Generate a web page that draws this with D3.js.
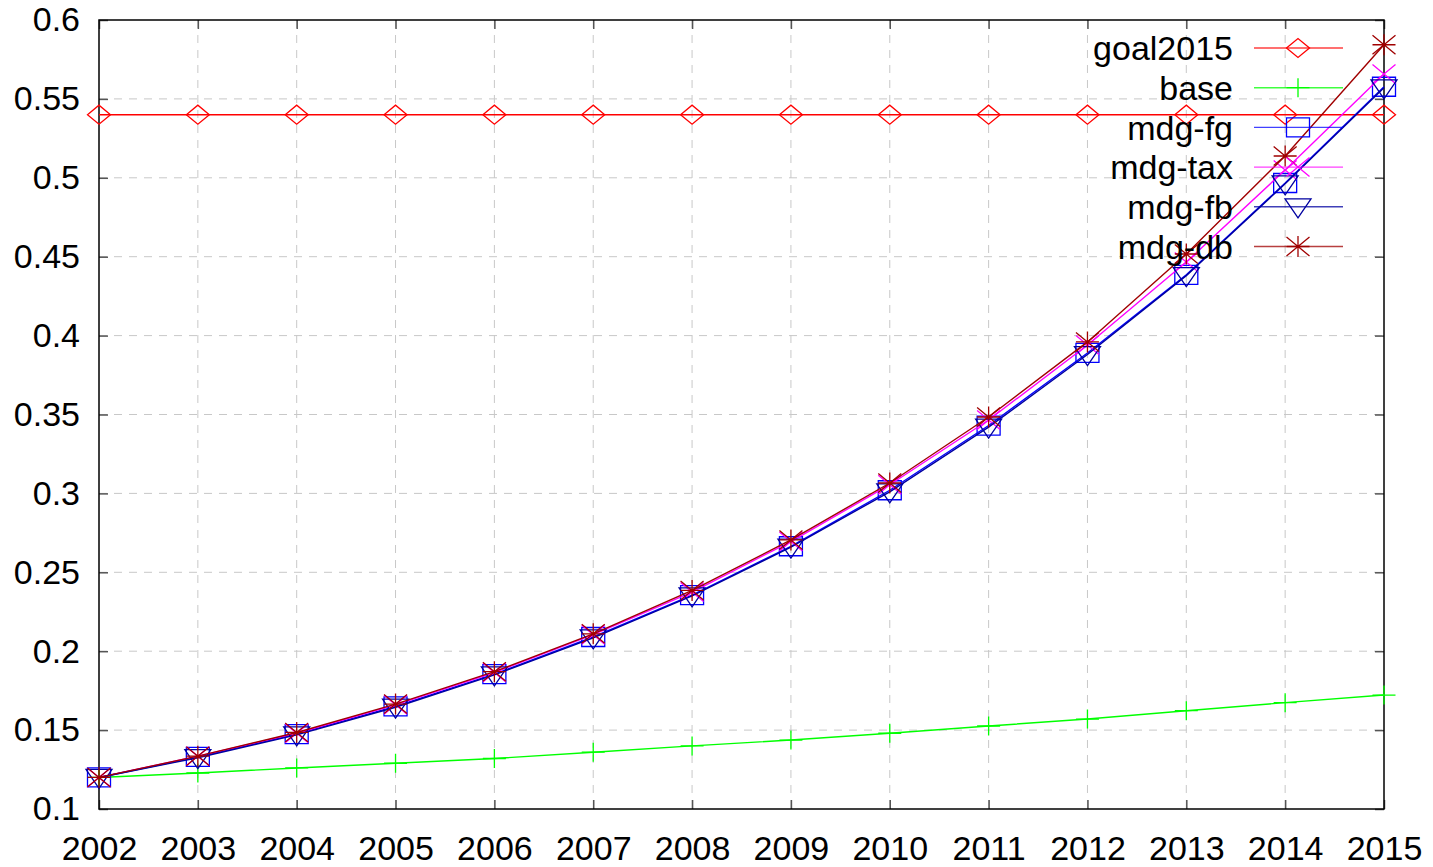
<!DOCTYPE html>
<html>
<head>
<meta charset="utf-8">
<script src="https://cdn.jsdelivr.net/npm/d3@7.9.0/dist/d3.min.js"></script>
<style>
  html, body { margin: 0; padding: 0; background: #fff; }
  svg { display: block; font-family: "Liberation Sans", Arial, sans-serif; }
</style>
</head>
<body>
<svg id="chart" width="1433" height="867"></svg>
<script>
const years = [2002, 2003, 2004, 2005, 2006, 2007, 2008, 2009, 2010, 2011, 2012, 2013, 2014, 2015];
const yTicks = [0.1, 0.15, 0.2, 0.25, 0.3, 0.35, 0.4, 0.45, 0.5, 0.55, 0.6];

const goal2015 = [0.54, 0.54, 0.54, 0.54, 0.54, 0.54, 0.54, 0.54, 0.54, 0.54, 0.54, 0.54, 0.54, 0.54];
const base = [0.120, 0.1228, 0.126, 0.129, 0.132, 0.136, 0.140, 0.1437, 0.148, 0.1526, 0.157, 0.1623, 0.1674, 0.1722];
const mdgFg = [0.120, 0.133, 0.1475, 0.165, 0.1855, 0.209, 0.2355, 0.2665, 0.302, 0.343, 0.389, 0.4385, 0.4967, 0.5577];
const mdgTax = [0.120, 0.1335, 0.148, 0.166, 0.1865, 0.2105, 0.2375, 0.2695, 0.3055, 0.3465, 0.394, 0.4466, 0.505, 0.5658];
const mdgFb = [0.120, 0.1325, 0.147, 0.1645, 0.185, 0.2085, 0.235, 0.266, 0.301, 0.342, 0.388, 0.438, 0.4962, 0.557];
const mdgDb = [0.120, 0.1335, 0.1485, 0.1665, 0.187, 0.211, 0.2385, 0.2705, 0.3066, 0.3484, 0.396, 0.4517, 0.5138, 0.5843];

const series = [
  { name: 'goal2015', values: goal2015, color: '#ff0000', mark: 'diamond' },
  { name: 'base', values: base, color: '#00ff00', mark: 'plus' },
  { name: 'mdg-fg', values: mdgFg, color: '#0000ff', mark: 'square' },
  { name: 'mdg-tax', values: mdgTax, color: '#ff00ff', mark: 'cross' },
  { name: 'mdg-fb', values: mdgFb, color: '#0000a0', mark: 'triangle' },
  { name: 'mdg-db', values: mdgDb, color: '#a00000', mark: 'star' }
];

const plotL = 99, plotR = 1384, plotT = 20, plotB = 809;
const fontSize = 34;
const svg = d3.select('#chart');

const x = d3.scaleLinear().domain([2002, 2015]).range([plotL, plotR]);
const y = d3.scaleLinear().domain([0.1, 0.6]).range([plotB, plotT]);

// grid
const grid = svg.append('g').attr('stroke', '#c8c8c8').attr('stroke-width', 1)
  .attr('stroke-dasharray', '8,7');
grid.selectAll('.gy').data(yTicks.slice(1, -1)).enter().append('line')
  .attr('x1', plotL).attr('x2', plotR)
  .attr('y1', d => y(d)).attr('y2', d => y(d));
grid.selectAll('.gx').data(years.slice(1, -1)).enter().append('line')
  .attr('y1', plotT).attr('y2', plotB)
  .attr('x1', d => x(d)).attr('x2', d => x(d));

// axes (ticks inward on all sides)
const tickLen = 9;
const axisB = svg.append('g').attr('transform', `translate(0,${plotB})`)
  .call(d3.axisBottom(x).tickValues(years).tickFormat(d3.format('d')).tickSize(-tickLen).tickPadding(27));
const axisT = svg.append('g').attr('transform', `translate(0,${plotT})`)
  .call(d3.axisTop(x).tickValues(years).tickFormat('').tickSize(-tickLen));
const axisL = svg.append('g').attr('transform', `translate(${plotL},0)`)
  .call(d3.axisLeft(y).tickValues(yTicks).tickFormat(d => String(+d.toFixed(2))).tickSize(-tickLen).tickPadding(19));
const axisR = svg.append('g').attr('transform', `translate(${plotR},0)`)
  .call(d3.axisRight(y).tickValues(yTicks).tickFormat('').tickSize(-tickLen));

[axisB, axisT, axisL, axisR].forEach(a => {
  a.select('.domain').remove();
  a.selectAll('.tick line').attr('stroke', '#555').attr('stroke-width', 1.5);
  a.selectAll('.tick text').attr('fill', '#000').attr('font-size', fontSize)
    .attr('font-family', '"Liberation Sans", Arial, sans-serif');
});
axisB.selectAll('.tick text').attr('dy', '0.71em');

svg.append('rect').attr('x', plotL).attr('y', plotT)
  .attr('width', plotR - plotL).attr('height', plotB - plotT)
  .attr('fill', 'none').attr('stroke', '#000').attr('stroke-width', 1.5);

// point shapes
function markPath(type, cx, cy) {
  const w = 11.5, h = 9.5;
  switch (type) {
    case 'diamond':
      return `M${cx - w},${cy}L${cx},${cy - h}L${cx + w},${cy}L${cx},${cy + h}Z`;
    case 'plus':
      return `M${cx - w},${cy}L${cx + w},${cy}M${cx},${cy - h}L${cx},${cy + h}`;
    case 'square':
      return `M${cx - w},${cy - h}L${cx + w},${cy - h}L${cx + w},${cy + h}L${cx - w},${cy + h}Z`;
    case 'cross':
      return `M${cx - w},${cy - h}L${cx + w},${cy + h}M${cx - w},${cy + h}L${cx + w},${cy - h}`;
    case 'triangle':
      return `M${cx - 13},${cy - 8}L${cx + 13},${cy - 8}L${cx},${cy + 11}Z`;
    case 'star':
      return `M${cx - w},${cy}L${cx + w},${cy}M${cx},${cy - h - 1}L${cx},${cy + h + 1}` +
        `M${cx - w},${cy - h}L${cx + w},${cy + h}M${cx - w},${cy + h}L${cx + w},${cy - h}`;
  }
}

const line = d3.line().x((d, i) => x(years[i])).y(d => y(d));

series.forEach(s => {
  const g = svg.append('g');
  g.append('path').datum(s.values).attr('d', line)
    .attr('fill', 'none').attr('stroke', s.color).attr('stroke-width', 1.4);
  g.selectAll('path.mk').data(s.values).enter().append('path').attr('class', 'mk')
    .attr('d', (d, i) => markPath(s.mark, x(years[i]), y(d)))
    .attr('fill', 'none').attr('stroke', s.color).attr('stroke-width', 1.3);
});

// legend
const legend = svg.append('g');
series.forEach((s, i) => {
  const ry = 48 + i * 39.7;
  legend.append('text').attr('x', 1233).attr('y', ry).attr('dy', '0.36em')
    .attr('text-anchor', 'end').attr('font-size', fontSize).attr('fill', '#000')
    .text(s.name);
  legend.append('line').attr('x1', 1254).attr('x2', 1343).attr('y1', ry).attr('y2', ry)
    .attr('stroke', s.color).attr('stroke-width', 1.4).attr('stroke-opacity', 0.75);
  legend.append('path').attr('d', markPath(s.mark, 1298, ry))
    .attr('fill', 'none').attr('stroke', s.color).attr('stroke-width', 1.3);
});
</script>
</body>
</html>
